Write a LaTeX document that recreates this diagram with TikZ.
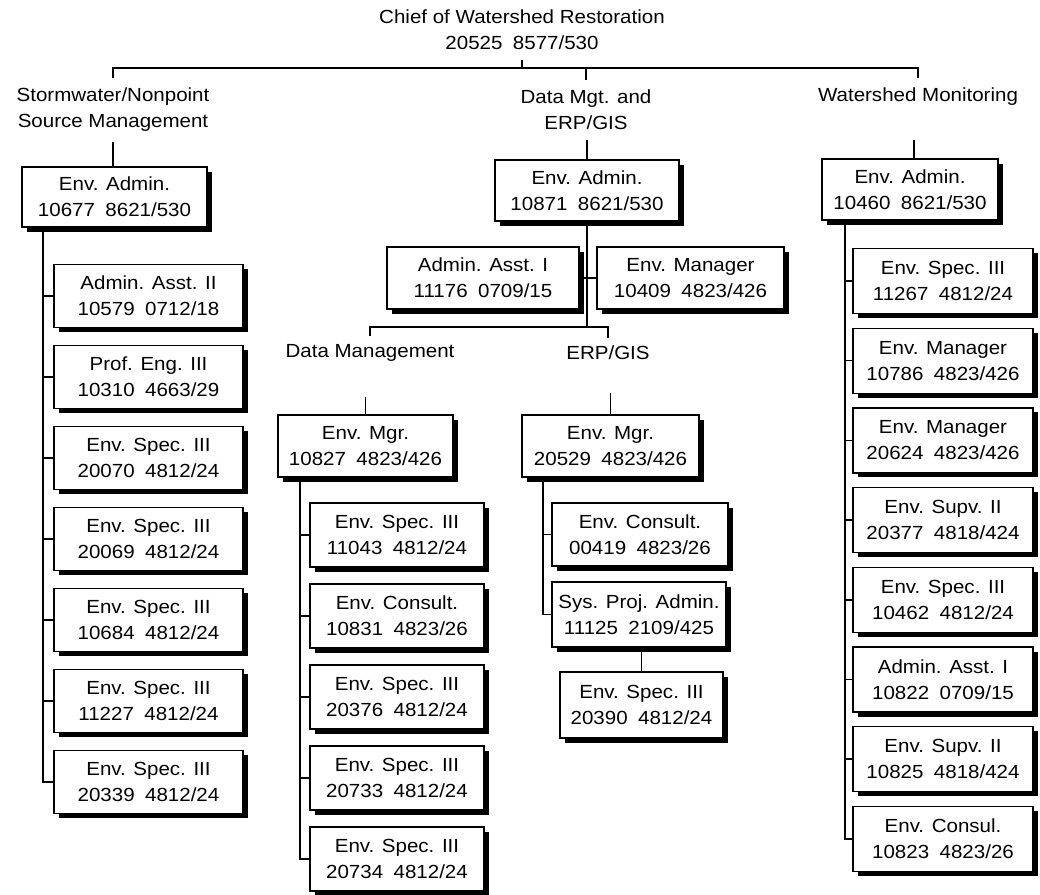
\documentclass[tikz,border=0pt]{standalone}
\usepackage{fontspec}
\setmainfont[FakeStretch=1.08]{Liberation Sans}
\usetikzlibrary{shadows}
\newcommand\boxfont{\fontsize{19}{26}\selectfont}
\newcommand\sepx{\hspace{0.55em}}
\begin{document}
\begin{tikzpicture}[x=1pt,y=-1pt,
  posbox/.style={draw, line width=1.4pt, fill=white, inner sep=0pt, align=center, font=\boxfont,
    drop shadow={shadow xshift=4.5pt, shadow yshift=-4.5pt, fill=black, opacity=1}},
  lbl/.style={align=center, font=\boxfont, inner xsep=1pt, inner ysep=10pt},
  conn/.style={line width=1.5pt}]
\useasboundingbox (0,0) rectangle (1040,894);

% titles and section labels
\node[lbl] (title) at (522,30) {Chief of Watershed Restoration\\20525\sepx 8577/530};
\node[lbl] (l1) at (113,110) {Stormwater/Nonpoint\\Source Management};
\node[lbl] (l2) at (586,110) {Data Mgt. and\\ERP/GIS};
\node[lbl] (l3) at (918,97) {Watershed Monitoring};
\node[lbl, inner ysep=8pt] (l4) at (370,353) {Data Management};
\node[lbl, inner ysep=8pt] (l5) at (608,353) {ERP/GIS};

% heads
\node[posbox, minimum width=185pt, minimum height=60pt] (a1) at (114.5,197) {Env. Admin.\\10677\sepx 8621/530};
\node[posbox, minimum width=184pt, minimum height=61pt] (a2) at (587,190.5) {Env. Admin.\\10871\sepx 8621/530};
\node[posbox, minimum width=176pt, minimum height=61pt] (a3) at (910,189.5) {Env. Admin.\\10460\sepx 8621/530};

% left column
\begin{scope}[every node/.append style={posbox, minimum width=189pt, minimum height=63pt}]
\node (s1) at (148.5,296) {Admin. Asst. II\\10579\sepx 0712/18};
\node (s2) at (148.5,377) {Prof. Eng. III\\10310\sepx 4663/29};
\node (s3) at (148.5,458) {Env. Spec. III\\20070\sepx 4812/24};
\node (s4) at (148.5,539) {Env. Spec. III\\20069\sepx 4812/24};
\node (s5) at (148.5,620) {Env. Spec. III\\10684\sepx 4812/24};
\node (s6) at (148.5,701) {Env. Spec. III\\11227\sepx 4812/24};
\node (s7) at (148.5,782) {Env. Spec. III\\20339\sepx 4812/24};
\end{scope}

% middle
\node[posbox, minimum width=192pt, minimum height=62pt] (aa1) at (483,278) {Admin. Asst. I\\11176\sepx 0709/15};
\node[posbox, minimum width=187pt, minimum height=62pt] (em) at (690.5,278) {Env. Manager\\10409\sepx 4823/426};
\node[posbox, minimum width=175pt, minimum height=62pt] (m1) at (365.5,446) {Env. Mgr.\\10827\sepx 4823/426};
\node[posbox, minimum width=177pt, minimum height=62pt] (m2) at (610.5,446) {Env. Mgr.\\20529\sepx 4823/426};

\begin{scope}[every node/.append style={posbox, minimum width=174pt, minimum height=64pt}]
\node (d1) at (397,535) {Env. Spec. III\\11043\sepx 4812/24};
\node (d2) at (397,616) {Env. Consult.\\10831\sepx 4823/26};
\node (d3) at (397,697) {Env. Spec. III\\20376\sepx 4812/24};
\node (d4) at (397,778) {Env. Spec. III\\20733\sepx 4812/24};
\node (d5) at (397,859) {Env. Spec. III\\20734\sepx 4812/24};
\end{scope}

\node[posbox, minimum width=176pt, minimum height=63pt] (c1) at (640,534.5) {Env. Consult.\\00419\sepx 4823/26};
\node[posbox, minimum width=174pt, minimum height=65pt] (c2) at (639,614.5) {Sys. Proj. Admin.\\11125\sepx 2109/425};
\node[posbox, minimum width=163pt, minimum height=66pt] (c3) at (641.5,705) {Env. Spec. III\\20390\sepx 4812/24};

% right column
\begin{scope}[every node/.append style={posbox, minimum width=180pt, minimum height=65pt}]
\node (r1) at (943,281) {Env. Spec. III\\11267\sepx 4812/24};
\node (r2) at (943,360.7) {Env. Manager\\10786\sepx 4823/426};
\node (r3) at (943,440.4) {Env. Manager\\20624\sepx 4823/426};
\node (r4) at (943,520.1) {Env. Supv. II\\20377\sepx 4818/424};
\node (r5) at (943,599.8) {Env. Spec. III\\10462\sepx 4812/24};
\node (r6) at (943,679.5) {Admin. Asst. I\\10822\sepx 0709/15};
\node (r7) at (943,759.2) {Env. Supv. II\\10825\sepx 4818/424};
\node (r8) at (943,838.9) {Env. Consul.\\10823\sepx 4823/26};
\end{scope}

% helper coordinates
\coordinate (bar) at (0,68);
\coordinate (hb) at (0,327);
\coordinate (sp1) at (43,0);
\coordinate (sp2) at (300,0);
\coordinate (sp3) at (543,0);
\coordinate (sp4) at (845,0);
\coordinate (m1top) at (365.5,397);
\coordinate (m2top) at (610.5,393);
\coordinate (w3) at (914,140);

% connectors
\draw[conn] (title.south) -- (title.south |- bar);
\draw[conn] (l1.north) -- (l1.north |- bar) -- (l3.north |- bar) -- (l3.north);
\draw[conn] (l2.north) -- (l2.north |- bar);
\draw[conn] (l1.south) -- (l1.south |- a1.north);
\draw[conn] (a2.north) -- (a2.north |- l2.south);
\draw[conn] (a3.north -| w3) -- (w3);

\draw[conn] (a1.south -| sp1) -- (s7.west -| sp1) -- (s7.west);
\foreach \n in {s1,s2,s3,s4,s5,s6} \draw[conn] (\n.west -| sp1) -- (\n.west);

\draw[conn] (a2.south) -- (a2.south |- hb);
\draw[conn] (aa1.east) -- (em.west);
\draw[conn] (l4.north) -- (l4.north |- hb) -- (l5.north |- hb) -- (l5.north);
\draw[conn] (m1.north) -- (m1top);
\draw[conn] (m2.north) -- (m2top);

\draw[conn] (m1.south -| sp2) -- (d5.west -| sp2) -- (d5.west);
\foreach \n in {d1,d2,d3,d4} \draw[conn] (\n.west -| sp2) -- (\n.west);

\draw[conn] (m2.south -| sp3) -- (c2.west -| sp3) -- (c2.west);
\draw[conn] (c1.west -| sp3) -- (c1.west);
\draw[conn] (c3.north) -- (c3.north |- c2.south);

\draw[conn] (a3.south -| sp4) -- (r8.west -| sp4) -- (r8.west);
\foreach \n in {r1,r2,r3,r4,r5,r6,r7} \draw[conn] (\n.west -| sp4) -- (\n.west);
\end{tikzpicture}
\end{document}
